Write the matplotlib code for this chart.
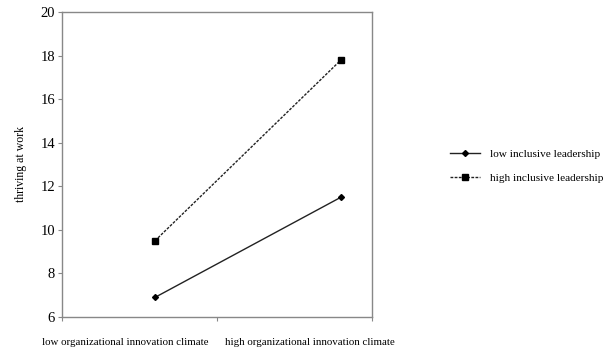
import matplotlib.pyplot as plt
import numpy as np

plt.rcParams['font.family'] = ['Liberation Serif', 'DejaVu Serif']

categories = ["low organizational innovation climate", "high organizational innovation climate"]
low_lead = [6.9, 11.5]
high_lead = [9.5, 17.8]
series_names = ["low inclusive leadership", "high inclusive leadership"]

fig = plt.figure(figsize=(6.09, 3.53), dpi=100)
ax = fig.add_axes([62 / 609, 1 - 317 / 353, 310 / 609, 305 / 353])

xpos = [0.3, 0.9]
ax.plot(xpos, low_lead, color="#222222", lw=1.0, marker="D", ms=3,
        mfc="black", mec="black", label=series_names[0])
ax.plot(xpos, high_lead, color="#222222", lw=1.0, ls=(0, (2, 1)), marker="s", ms=5,
        mfc="black", mec="black", label=series_names[1])

ax.set_xlim(0, 1)
ax.set_ylim(6, 20)
ax.set_yticks(np.arange(6, 21, 2))
ax.set_xticks([0, 0.5, 1])
ax.set_xticklabels([])
ax.tick_params(axis="y", labelsize=10.5, length=3, color="#888888", pad=2)
ax.tick_params(axis="x", length=3, color="#888888")
for s in ax.spines.values():
    s.set_color("#888888")
    s.set_linewidth(1.0)

ax.text(0.203, -0.085, categories[0], transform=ax.transAxes, ha="center", va="center", fontsize=7.8)
ax.text(0.80, -0.085, categories[1], transform=ax.transAxes, ha="center", va="center", fontsize=7.8)
ax.set_ylabel("thriving at work", fontsize=8.5, labelpad=10)

ax.legend(loc="center left", bbox_to_anchor=(1.22, 0.495), frameon=False, fontsize=8.1,
          handlelength=2.6, handletextpad=0.9, labelspacing=1.2)

fig.savefig("out.png", dpi=100)
